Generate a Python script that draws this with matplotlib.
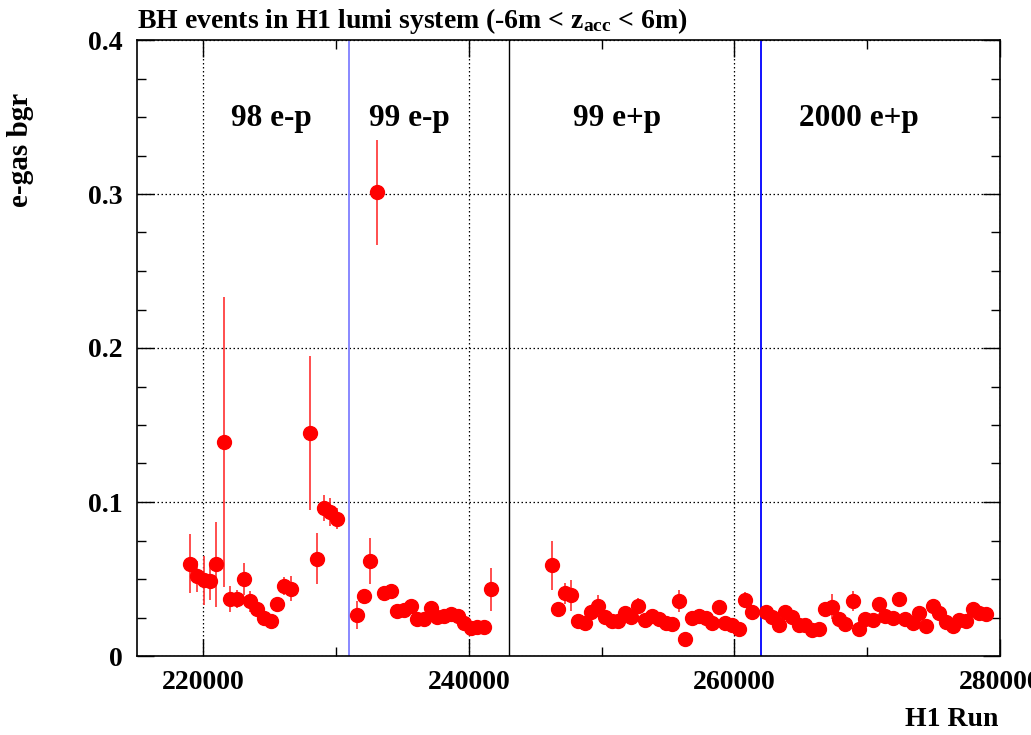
import matplotlib
matplotlib.use('Agg')
import matplotlib.pyplot as plt
from matplotlib.ticker import MultipleLocator, FuncFormatter

plt.rcParams['font.family'] = ['Liberation Serif', 'DejaVu Serif']
plt.rcParams['font.weight'] = 'bold'
plt.rcParams['mathtext.fontset'] = 'custom'
plt.rcParams['mathtext.rm'] = 'Liberation Serif:bold'
plt.rcParams['mathtext.it'] = 'Liberation Serif:bold'
plt.rcParams['mathtext.bf'] = 'Liberation Serif:bold'

# H1 run numbers, e-gas background fraction and its error
runs = [218970, 219520, 220020, 220530, 220980, 221530, 221980, 222530, 223040, 223540,
        224040, 224540, 225090, 225550, 226050, 226600, 228060, 228580, 229080, 229570,
        230070,
        231600, 232070, 232570, 233100, 233570, 234100, 234610, 235090, 235610, 236110,
        236600, 237120, 237620, 238130, 238630, 239140, 239630, 240140, 240640, 241140,
        241700,
        246220, 246710, 247220, 247720, 248220, 248720, 249230, 249730, 250230, 250740,
        251240, 251740, 252240, 252740, 253250, 253800, 254300, 254810, 255310, 255810,
        256310, 256810, 257320, 257820, 258320, 258820, 259320, 259820, 260330, 260830,
        261330,
        262340, 262840, 263340, 263840, 264340, 264850, 265350, 265850, 266350, 266840,
        267340, 267840, 268350, 268900, 269360, 269860, 270410, 270910, 271370, 271920,
        272420, 272870, 273420, 273930, 274420, 274930, 275430, 275930, 276440, 276940,
        277440, 277950, 278450, 278960]
bgr = [0.060, 0.0518, 0.0492, 0.0484, 0.0596, 0.139, 0.0369, 0.0369, 0.0499, 0.0356,
       0.0302, 0.025, 0.0229, 0.0335, 0.0454, 0.0438, 0.1447, 0.0633, 0.0963, 0.0935,
       0.0892,
       0.0267, 0.039, 0.0619, 0.301, 0.0406, 0.042, 0.029, 0.0297, 0.0324, 0.0239,
       0.0239, 0.0313, 0.0255, 0.026, 0.027, 0.026, 0.0213, 0.0185, 0.019, 0.019,
       0.0433,
       0.059, 0.0305, 0.0406, 0.0395, 0.0227, 0.0212, 0.0283, 0.0326, 0.0255, 0.0227,
       0.0227, 0.0276, 0.0255, 0.0326, 0.0233, 0.0259, 0.024, 0.0212, 0.0205, 0.0356,
       0.011, 0.0248, 0.0259, 0.0248, 0.0212, 0.0315, 0.0216, 0.0201, 0.0173, 0.0365,
       0.0287,
       0.0284, 0.0255, 0.0203, 0.0285, 0.0255, 0.0199, 0.0199, 0.0168, 0.0173, 0.0302,
       0.032, 0.0242, 0.0205, 0.0356, 0.0173, 0.0242, 0.0233, 0.0335, 0.0259, 0.0248,
       0.0367, 0.0242, 0.0216, 0.0281, 0.0194, 0.0324, 0.0276, 0.022, 0.0194, 0.0231,
       0.0227, 0.0302, 0.0281, 0.027]
err = [0.019, 0.010, 0.016, 0.012, 0.0275, 0.094, 0.0085, 0.006, 0.0105, 0.0068,
       0.003, 0.002, 0.002, 0.004, 0.006, 0.008, 0.050, 0.0168, 0.0084, 0.009,
       0.007,
       0.009, 0.004, 0.015, 0.034, 0.004, 0.004, 0.002, 0.002, 0.002, 0.002,
       0.002, 0.002, 0.002, 0.002, 0.002, 0.002, 0.002, 0.002, 0.002, 0.002,
       0.0138,
       0.016, 0.002, 0.007, 0.010, 0.002, 0.002, 0.003, 0.007, 0.002, 0.002,
       0.002, 0.002, 0.002, 0.005, 0.002, 0.002, 0.002, 0.002, 0.002, 0.007,
       0.002, 0.002, 0.002, 0.002, 0.002, 0.002, 0.002, 0.002, 0.002, 0.005,
       0.002,
       0.002, 0.002, 0.002, 0.003, 0.002, 0.002, 0.002, 0.002, 0.002, 0.002,
       0.008, 0.002, 0.002, 0.0065, 0.002, 0.002, 0.002, 0.002, 0.002, 0.002,
       0.004, 0.002, 0.002, 0.002, 0.002, 0.002, 0.002, 0.002, 0.002, 0.002,
       0.002, 0.002, 0.002, 0.002]

# period boundaries and labels
bounds = [231000, 243000, 262000]
bound_colors = ['#7f7fff', 'black', '#0000ff']
period_names = ['98 e-p', '99 e-p', '99 e+p', '2000 e+p']
period_x = [225150, 235530, 251130, 269400]

fig = plt.figure(figsize=(10.31, 7.35), dpi=100)
ax = fig.add_axes([137/1031, 79/735, 863/1031, 616/735])

ax.set_xlim(215000, 280000)
ax.set_ylim(0, 0.4)

ax.grid(True, which='major', color='black', linestyle=(0, (1.2, 2.0)), linewidth=0.9)
ax.set_axisbelow(True)

for b, c in zip(bounds, bound_colors):
    ax.axvline(b, color=c, linewidth=1.3 if c != 'black' else 1.0, zorder=2)

ax.errorbar(runs, bgr, yerr=err, fmt='o', color='red', ecolor='#ff3030',
            elinewidth=1.2, capsize=0, markersize=10, zorder=3)

for name, xp in zip(period_names, period_x):
    ax.text(xp, 0.349, name, ha='center', va='center', fontsize=22.5, fontweight='bold')

ax.xaxis.set_major_locator(MultipleLocator(20000))
ax.xaxis.set_minor_locator(MultipleLocator(10000))
ax.yaxis.set_major_locator(MultipleLocator(0.1))
ax.yaxis.set_minor_locator(MultipleLocator(0.025))
ax.yaxis.set_major_formatter(FuncFormatter(lambda v, p: '0' if abs(v) < 1e-9 else f'{v:.1f}'))
ax.xaxis.set_major_formatter(FuncFormatter(lambda v, p: f'{int(round(v))}'))
ax.tick_params(which='both', direction='in', top=True, right=True, width=1.0,
               labelsize=20, pad=10)
ax.tick_params(which='major', length=12)
ax.tick_params(which='minor', length=6.5)
for lab in ax.get_xticklabels() + ax.get_yticklabels():
    lab.set_fontweight('bold')
for s in ax.spines.values():
    s.set_linewidth(1.2)

fig.text(137/1031, 1 - 21/735, r'BH events in H1 lumi system (-6m < z$_{\rm acc}$ < 6m)',
         ha='left', va='center', fontsize=20, fontweight='bold')
fig.text(20/1031, 1 - 150/735, 'e-gas bgr', rotation=90, ha='center', va='center',
         fontsize=21, fontweight='bold')
fig.text(998/1031, 1 - 719/735, 'H1 Run', ha='right', va='center',
         fontsize=20, fontweight='bold')

fig.savefig('out.png', dpi=100)
